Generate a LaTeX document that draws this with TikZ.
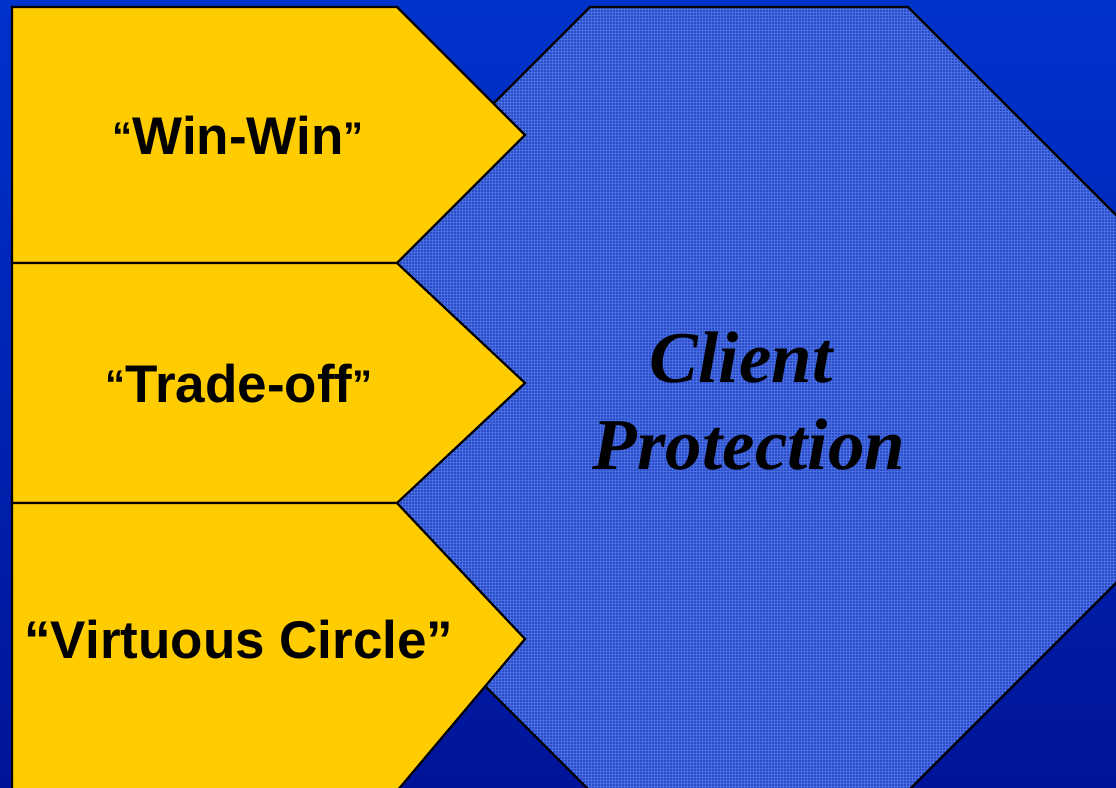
\documentclass[tikz,border=0pt]{standalone}
\usepackage{fontspec}
\setmainfont{Liberation Sans}
\newfontfamily\timesfont{Liberation Serif}

\definecolor{bgtop}{RGB}{0,51,204}
\definecolor{bgbottom}{RGB}{0,20,153}
\definecolor{gold}{RGB}{255,204,0}
\definecolor{octbase}{RGB}{42,76,200}
\definecolor{octgrid}{RGB}{72,110,226}

% small, slightly raised curly quotes around the first two labels
\newcommand\smallquote[1]{\raisebox{4pt}{\fontsize{40}{40}\selectfont #1}}
% outline of the large octagon
\newcommand\octagonpath{(590,7) -- (908,7) -- (1141,240) -- (1141,558) -- (908,791) -- (590,791) -- (357,558) -- (357,240) -- cycle}

\tikzset{
  arrowbox/.style={fill=gold, draw=black, line width=2.2pt, line join=miter},
  octaedge/.style={draw=black, line width=2.2pt},
  arrowlabel/.style={font=\fontsize{53}{53}\selectfont\bfseries, inner sep=0pt, anchor=base, text=black},
  centrelabel/.style={font=\timesfont\fontsize{73}{73}\selectfont\bfseries\itshape, inner sep=0pt, anchor=base, text=black}
}

\begin{document}
\begin{tikzpicture}[x=1pt,y=-1pt]
\useasboundingbox (0,0) rectangle (1116,787);
\clip (0,0) rectangle (1116,787);

% background
\shade[top color=bgtop, bottom color=bgbottom] (0,0) rectangle (1116,787);

% octagon with a fine woven texture
\fill[octbase] \octagonpath;
\begin{scope}
  \clip \octagonpath;
  \foreach \x in {357,360,...,1141} \fill[octgrid] (\x,0) rectangle (\x+1,791);
  \foreach \y in {6,9,...,791} \fill[octgrid] (357,\y) rectangle (1141,\y+1);
\end{scope}
\draw[octaedge] \octagonpath;

% three arrow-shaped panels
\draw[arrowbox] (12,7) -- (397,7) -- (525,135) -- (397,263) -- (12,263) -- cycle;
\draw[arrowbox] (12,263) -- (397,263) -- (525,383) -- (397,503) -- (12,503) -- cycle;
\draw[arrowbox] (12,503) -- (397,503) -- (525,639) -- (397,791) -- (12,791) -- cycle;

% labels
\node[arrowlabel] (winwin) at (238,154) {\smallquote{“}Win-Win\smallquote{”}};
\node[arrowlabel] (tradeoff) at (239,402) {\smallquote{“}Trade-off\smallquote{”}};
\node[arrowlabel] (virtuous) at (239,658) {“Virtuous Circle”};

\node[centrelabel] (client) at (741,382) {Client};
\node[centrelabel] (protection) at (749,469) {Protection};
\end{tikzpicture}
\end{document}
